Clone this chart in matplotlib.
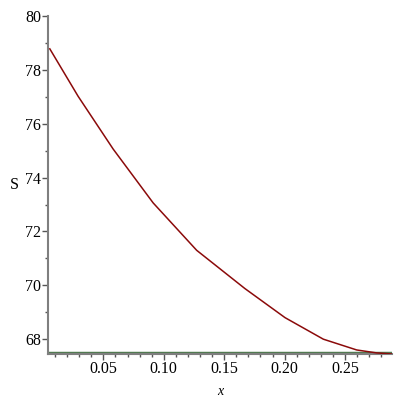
import matplotlib
matplotlib.use("Agg")
import matplotlib.pyplot as plt
from matplotlib.ticker import MultipleLocator

# valores
x = [0.0057, 0.0291, 0.0581, 0.0912, 0.1272, 0.1671, 0.2003,
     0.2320, 0.2596, 0.2762, 0.2888]
s = [78.78, 77.02, 75.06, 73.06, 71.30, 69.88, 68.80,
     68.00, 67.60, 67.49, 67.45]
s_min = 67.45

xticks = [0.05, 0.10, 0.15, 0.20, 0.25]
yticks = [68, 70, 72, 74, 76, 78, 80]

plt.rcParams["font.family"] = ["Liberation Serif", "DejaVu Serif"]

fig = plt.figure(figsize=(4, 4), dpi=100)
ax = fig.add_axes([0.12, 0.115, 0.86, 0.845])

ax.plot(x, s, color="#8b0a0a", linewidth=1.1, zorder=3)
ax.axhline(s_min, color="#4f7a4f", linewidth=3.2, zorder=2)

ax.set_xlim(0.0042, 0.2888)
ax.set_ylim(s_min, 80)

ax.set_xticks(xticks)
ax.set_xticklabels([f"{t:.2f}" for t in xticks])
ax.set_yticks(yticks)
ax.xaxis.set_minor_locator(MultipleLocator(0.01))
ax.yaxis.set_minor_locator(MultipleLocator(1))

for lado in ["top", "right"]:
    ax.spines[lado].set_visible(False)
for lado in ["left", "bottom"]:
    ax.spines[lado].set_color("#7f7f7f")
    ax.spines[lado].set_linewidth(1.5)

ax.tick_params(which="major", length=4, width=1, color="#555555",
               labelsize=11.5, pad=1)
ax.tick_params(which="minor", length=2.5, width=1, color="#555555")

ax.set_xlabel("x", fontstyle="italic", fontsize=10, labelpad=6)
ax.set_ylabel("S", rotation=0, fontsize=11.5, va="center")
ax.yaxis.set_label_coords(-0.099, 0.5)

fig.savefig("out.png", dpi=100)
